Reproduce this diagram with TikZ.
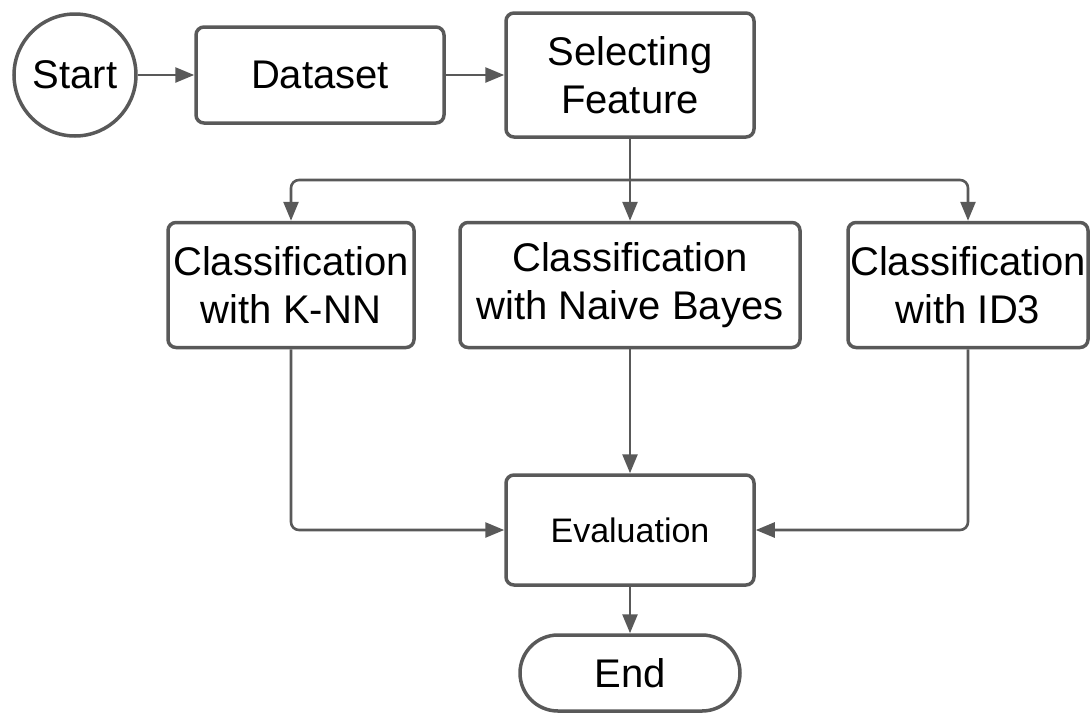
\documentclass[tikz,border=0pt]{standalone}
\usepackage{fontspec}
\setmainfont{Liberation Sans}
\usepackage{tikz}
\usetikzlibrary{arrows.meta}

\definecolor{linegray}{HTML}{595959}

\begin{document}
\begin{tikzpicture}[x=1pt,y=-1pt,->,>={Triangle[length=19pt,width=15pt]},line width=2.6pt,draw=linegray,
  every node/.style={font=\fontsize{40}{48}\selectfont,align=center,inner sep=1pt},
  box node/.style={rectangle,draw=linegray,line width=3.5pt,rounded corners=8pt,minimum width=248pt,minimum height=125pt},
  term node/.style={circle,draw=linegray,line width=3.5pt,minimum size=122pt,inner sep=0pt}]

  \useasboundingbox (0,0) rectangle (1090,713);

  \node[term node] (start) at (75,75) {Start};
  \node[box node,minimum height=96pt] (dataset) [right of=start,node distance=245pt] {Dataset};
  \node[box node,minimum height=124pt] (select) [right of=dataset,node distance=310pt] {Selecting\\Feature};
  \coordinate[below of=select,node distance=105pt] (split);

  \node[box node,minimum width=340pt] (nb) [below of=select,node distance=210pt] {Classification\\with Naive Bayes};
  \node[box node,minimum width=246pt] (knn) [left of=nb,node distance=339pt] {Classification\\with K-NN};
  \node[box node,minimum width=240pt] (id3) [right of=nb,node distance=338pt] {Classification\\with ID3};

  \node[box node,minimum height=110pt,font=\fontsize{34}{40}\selectfont] (eval) [below of=nb,node distance=245pt] {Evaluation};
  \node[rectangle,draw=linegray,line width=3.5pt,rounded corners=38pt,minimum width=220pt,minimum height=76pt] (finish) [below of=eval,node distance=143pt] {End};

  \draw[linegray] (start) -- (dataset);
  \draw[linegray] (dataset) -- (select);
  \draw[linegray,-] (select.south) -- (split);
  \draw[linegray,rounded corners=8pt] (split) -| (knn.north);
  \draw[linegray] (split) -- (nb.north);
  \draw[linegray,rounded corners=8pt] (split) -| (id3.north);
  \draw[linegray,rounded corners=8pt] (knn.south) |- (eval.west);
  \draw[linegray] (nb.south) -- (eval.north);
  \draw[linegray,rounded corners=8pt] (id3.south) |- (eval.east);
  \draw[linegray] (eval.south) -- (finish.north);
\end{tikzpicture}
\end{document}
